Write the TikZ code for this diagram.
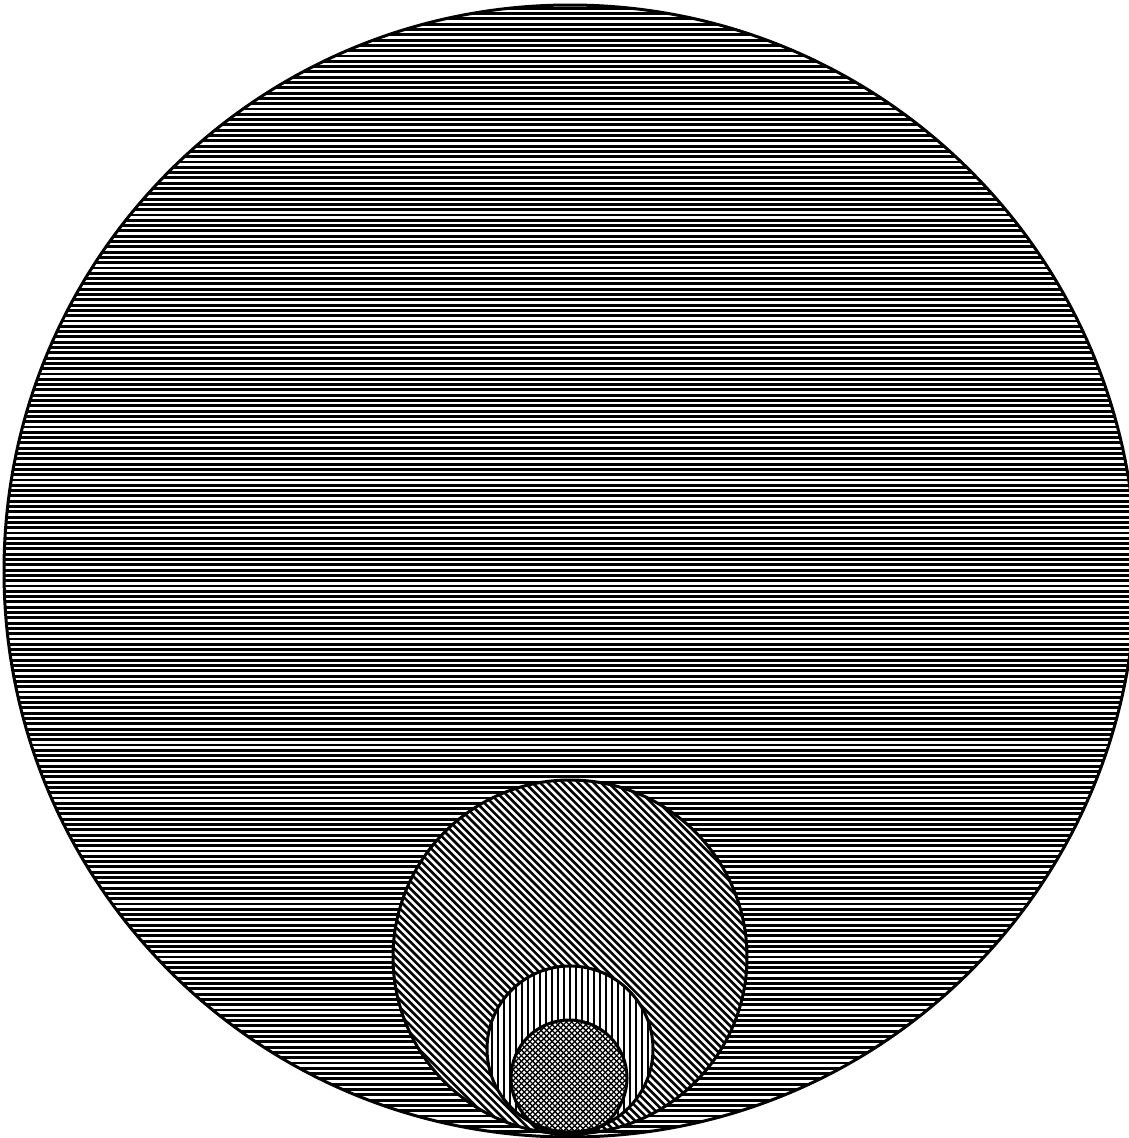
\documentclass[tikz,border=0pt]{standalone}
\tikzset{
  rim/.style={draw=black, line width=3pt},
  hatchline/.style={line width=2.9pt, black},
  diagline/.style={line width=2.6pt, black},
  vertline/.style={line width=2.8pt, black},
  crossline/.style={line width=1.3pt, black}
}
\begin{document}
\begin{tikzpicture}[x=1pt,y=-1pt]
\useasboundingbox (0,0) rectangle (1129,1138);
\clip (0,0) rectangle (1129,1138);
\fill[white] (0,0) rectangle (1129,1138);
\coordinate (cA) at (570,571);
\coordinate (cB) at (570,957);
\coordinate (cC) at (570,1049);
\coordinate (cD) at (569,1078);
% big circle, horizontal lines
\begin{scope}
  \clip (cA) circle[radius=566pt];
  \foreach \i in {0,...,216} \draw[hatchline] (0,3+\i*5.3) -- (1129,3+\i*5.3);
  % medium circle, diagonal lines
  \begin{scope}
    \clip (cB) circle[radius=177pt];
    \fill[white] (cB) circle[radius=177pt];
    \foreach \i in {-80,...,80} \draw[diagline] (370+\i*7.6,757) -- ++(400,400);
  \end{scope}
  % vertical-lined circle
  \begin{scope}
    \clip (cC) circle[radius=83pt];
    \fill[white] (cC) circle[radius=83pt];
    \foreach \i in {0,...,30} \draw[vertline] (486+\i*6,960) -- ++(0,180);
  \end{scope}
  % cross-hatched circle
  \begin{scope}
    \clip (cD) circle[radius=58pt];
    \fill[white] (cD) circle[radius=58pt];
    \foreach \i in {-35,...,35} {
      \draw[crossline] (449+\i*5.6,1000) -- ++(150,150);
      \draw[crossline] (689+\i*5.6,1000) -- ++(-150,150);
    }
  \end{scope}
  \draw[rim] (cB) circle[radius=177pt];
  \draw[rim] (cC) circle[radius=83pt];
  \draw[rim] (cD) circle[radius=58pt];
\end{scope}
\draw[rim] (cA) circle[radius=566pt];
\end{tikzpicture}
\end{document}
